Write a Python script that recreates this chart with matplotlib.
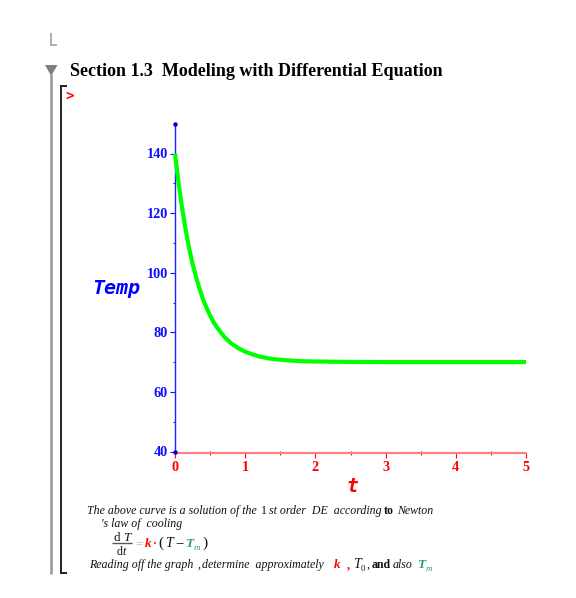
import matplotlib
matplotlib.use("Agg")
import matplotlib.pyplot as plt
from matplotlib.lines import Line2D
from matplotlib.patches import Polygon

t_values = [0, 0.05, 0.1, 0.15, 0.2, 0.25, 0.3, 0.35, 0.4, 0.45, 0.5, 0.55, 0.6, 0.7, 0.8, 0.9, 1.0, 1.1, 1.2, 1.3, 1.4, 1.5, 1.6, 1.8, 2.0, 2.5, 3, 4, 5]
temp_values = [140, 130.2, 121.9, 114.6, 108.4, 103, 98.5, 94.6, 91, 88.2, 85.6, 83.4, 81.6, 78.5, 76.3, 74.7, 73.5, 72.6, 71.9, 71.4, 71, 70.8, 70.6, 70.3, 70.2, 70.05, 70, 70, 70]
x_ticks = [0, 1, 2, 3, 4, 5]
x_minor = [0.5, 1.5, 2.5, 3.5, 4.5]
y_ticks = [40, 60, 80, 100, 120, 140]
y_minor = [50, 70, 90, 110, 130]
title_text = "Section 1.3  Modeling with Differential Equation"
x_label = "t"
y_label = "Temp"

W, H = 576, 598
fig = plt.figure(figsize=(W / 100, H / 100), dpi=100)
SERIF = "Liberation Serif"
MONO = "DejaVu Sans Mono"

# page overlay in pixel coordinates
pg = fig.add_axes([0, 0, 1, 1], zorder=0)
pg.set_xlim(0, W); pg.set_ylim(H, 0); pg.axis("off")

def seg(xs, ys, c, lw):
    pg.add_line(Line2D(xs, ys, color=c, lw=lw, solid_capstyle="butt", solid_joinstyle="miter"))

seg([51, 51, 57], [33, 44.5, 44.5], "#999999", 1.1)
pg.add_patch(Polygon([[45, 65], [57.5, 65], [51.2, 76]], color="#808080", lw=0))
seg([51, 51], [74, 574], "#a0a0a0", 2.0)
seg([66.5, 61, 61, 66.5], [86, 86, 573, 573], "#222222", 1.4)
pg.text(70, 72, title_text, family=SERIF, weight="bold", fontsize=13.0, color="black", va="center", ha="left")
pg.text(65.5, 96, ">", family=MONO, weight="bold", fontsize=10, color="red", va="center", ha="left")

# plot
x0, x1 = 175, 526
y140, y40 = 153.5, 451.5
per_y = (y40 - y140) / 100
ymin = 40 - (453 - y40) / per_y
ymax = 140 + (y140 - 124) / per_y
ax = fig.add_axes([x0 / W, 1 - 453 / H, (x1 - x0) / W, (453 - 124) / H], zorder=1)
ax.set_xlim(0, 5); ax.set_ylim(ymin, ymax)
ax.patch.set_alpha(0)
for s in ("top", "right"):
    ax.spines[s].set_visible(False)
ax.spines["left"].set_color("#2020ff"); ax.spines["left"].set_linewidth(1.0)
ax.spines["bottom"].set_color("#ff8080"); ax.spines["bottom"].set_linewidth(1.6)
ax.plot(t_values, temp_values, color="#00ff00", lw=3.0, solid_capstyle="butt", clip_on=False, zorder=3)
ax.plot([0, 0], [40, ymax], ls="none", marker="o", ms=2.2, color="#0000c8", clip_on=False, zorder=4)
ax.set_xticks(x_ticks); ax.set_xticks(x_minor, minor=True)
ax.set_yticks(y_ticks); ax.set_yticks(y_minor, minor=True)
ax.tick_params(axis="x", which="major", colors="red", length=3.6, width=0.8, pad=2.2, labelsize=10.3)
ax.tick_params(axis="x", which="minor", colors="red", length=2.5, width=0.8, direction="inout")
ax.tick_params(axis="y", which="major", colors="#1010ff", length=3.6, width=0.8, pad=1.6, labelsize=10.3)
ax.tick_params(axis="y", which="minor", colors="#1010ff", length=1.5, width=0.8)
for lab in ax.get_xticklabels() + ax.get_yticklabels():
    lab.set_family(SERIF); lab.set_weight("bold")

pg.set_zorder(2)
pg.text(352, 487, x_label, family=MONO, weight="bold", style="italic", fontsize=14, color="red", ha="center", va="center")
pg.text(116, 288, y_label, family=MONO, weight="bold", style="italic", fontsize=14.4, color="#0000ff", ha="center", va="center")

# note text
G = "#2e9e6a"
def txt(x, y, s, c="#111111", st="italic", w="normal", fs=8.6, ha="left"):
    pg.text(x, y, s, family=SERIF, style=st, weight=w, fontsize=fs, color=c, ha=ha, va="baseline")

txt(87, 514, "The above curve is a solution of the")
txt(261, 514, "1", st="normal")
txt(269, 514, "st order  DE  according")
txt(384, 514, "to", st="normal", w="bold")
txt(397, 514, "Newton")
txt(101, 527, "'s law of  cooling")
txt(114, 541, "d", st="normal", fs=9.4); txt(123, 541, "T", fs=9.4)
seg([112, 132], [542.5, 542.5], "#555555", 1.0)
txt(117, 555, "d", st="normal"); txt(122, 555, "t")
txt(135, 547, "=", c="#bbbbbb", st="normal", w="bold", fs=9.4)
txt(145, 547, "k", c="red", w="bold", fs=9.4)
txt(153, 547, "\u00b7", c="red", st="normal", w="bold")
txt(158, 547, "(", st="normal", fs=11)
txt(165, 547, "T", fs=10); txt(175, 547, "\u2212", st="normal", fs=10.5)
txt(185, 547, "T", c=G, fs=9.5, w="bold"); txt(194, 550, "m", c=G, fs=6.5)
txt(202, 547, ")", st="normal", fs=11)
txt(89, 568, "Reading off the graph")
txt(197, 568, ",", st="normal")
txt(202, 568, "determine  approximately")
txt(334, 568, "k", c="red", w="bold", fs=9.4)
txt(347, 568, ",", c="red", st="normal", w="bold")
txt(353, 568, "T", fs=10); txt(361, 571, "0", st="normal", fs=6.5)
txt(366, 568, ",", st="normal")
txt(372, 568, "and", st="normal", w="bold")
txt(393, 568, "also")
txt(417, 568, "T", c=G, fs=9.5, w="bold"); txt(426, 571, "m", c=G, fs=6.5)

fig.savefig("out.png", dpi=100)
